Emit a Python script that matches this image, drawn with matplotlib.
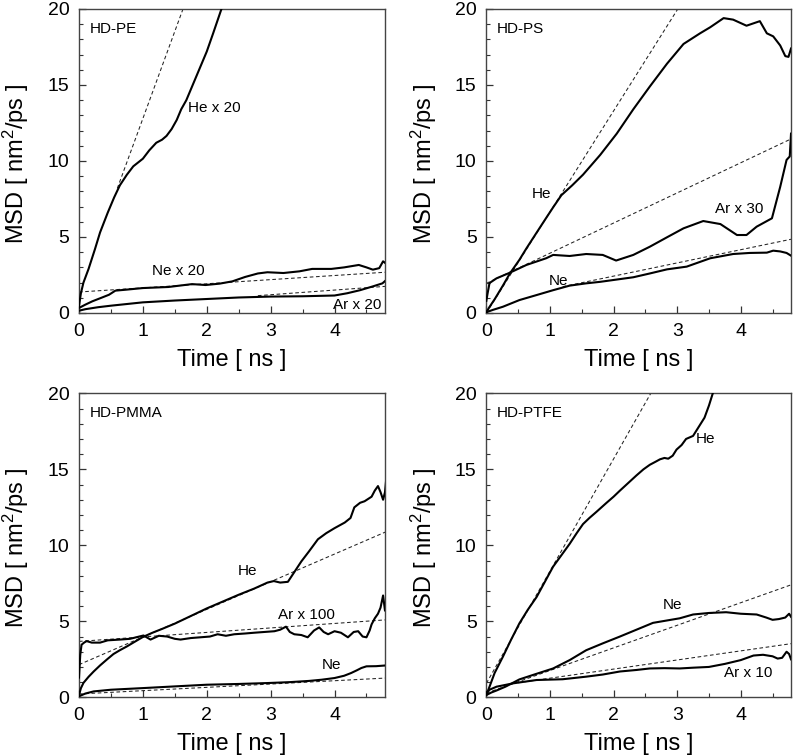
import matplotlib
matplotlib.use("Agg")
import matplotlib.pyplot as plt
from matplotlib.ticker import MultipleLocator

plt.rcParams['font.family'] = ['Liberation Sans', 'DejaVu Sans']
plt.rcParams['mathtext.fontset'] = 'custom'
plt.rcParams['mathtext.rm'] = 'Liberation Sans'
plt.rcParams['mathtext.it'] = 'Liberation Sans'

# ---------------- HD-PE ----------------
pe_he_t = [0, 0.03, 0.07, 0.15, 0.25, 0.33, 0.45, 0.55, 0.64, 0.75, 0.85, 1.0, 1.1, 1.21, 1.3,
           1.37, 1.45, 1.53, 1.6, 1.68, 1.76, 1.84, 1.92, 2.0, 2.1, 2.23, 2.3]
pe_he_y = [0.45, 1.3, 2.0, 2.9, 4.2, 5.3, 6.6, 7.6, 8.4, 9.1, 9.65, 10.15, 10.7, 11.2, 11.4,
           11.65, 12.1, 12.7, 13.4, 14.0, 14.8, 15.6, 16.4, 17.2, 18.4, 20.0, 20.8]
pe_ne_t = [0, 0.1, 0.21, 0.35, 0.47, 0.57, 0.73, 1.0, 1.4, 1.77, 1.98, 2.2, 2.4, 2.6, 2.8,
           2.95, 3.2, 3.45, 3.65, 3.95, 4.15, 4.38, 4.5, 4.6, 4.7, 4.76, 4.79]
pe_ne_y = [0.33, 0.55, 0.77, 1.0, 1.2, 1.47, 1.53, 1.64, 1.71, 1.9, 1.84, 1.93, 2.08, 2.37, 2.6,
           2.68, 2.63, 2.74, 2.9, 2.9, 3.0, 3.16, 3.0, 2.85, 2.95, 3.4, 3.3]
pe_ar_t = [0, 0.1, 0.3, 0.5, 1.0, 1.5, 2.0, 2.5, 3.0, 3.5, 4.0, 4.2, 4.4, 4.6, 4.75, 4.79]
pe_ar_y = [0.15, 0.25, 0.38, 0.48, 0.7, 0.82, 0.92, 1.02, 1.08, 1.1, 1.15, 1.3, 1.5, 1.75, 1.95, 2.1]
pe_fit_he_t = [0.6, 1.75]
pe_fit_he_y = [8.2, 21.4]
pe_fit_ne_t = [0, 4.79]
pe_fit_ne_y = [1.38, 2.68]
pe_fit_ar_t = [2.8, 4.79]
pe_fit_ar_y = [1.14, 1.75]

# ---------------- HD-PS ----------------
ps_he_t = [0, 0.05, 0.13, 0.26, 0.37, 0.52, 0.63, 0.8, 0.94, 1.05, 1.18, 1.35, 1.52, 1.79, 2.05,
           2.31, 2.57, 2.84, 3.1, 3.36, 3.52, 3.73, 3.88, 4.09, 4.3, 4.41, 4.51, 4.62, 4.7, 4.75, 4.79]
ps_he_y = [0.05, 0.4, 0.9, 1.8, 2.6, 3.5, 4.25, 5.35, 6.25, 6.95, 7.75, 8.4, 9.1, 10.4, 11.8,
           13.4, 14.9, 16.4, 17.7, 18.4, 18.8, 19.4, 19.3, 18.9, 19.2, 18.4, 18.2, 17.6, 16.9, 16.85, 17.4]
ps_ar_t = [0, 0.02, 0.05, 0.16, 0.37, 0.63, 0.94, 1.05, 1.31, 1.57, 1.83, 2.04, 2.31, 2.57, 2.84,
           3.1, 3.41, 3.68, 3.94, 4.09, 4.25, 4.49, 4.62, 4.72, 4.77, 4.79]
ps_ar_y = [0.8, 1.3, 1.97, 2.28, 2.65, 3.16, 3.6, 3.82, 3.75, 3.88, 3.82, 3.45, 3.82, 4.36, 4.98,
           5.57, 6.05, 5.85, 5.13, 5.13, 5.68, 6.23, 8.3, 10.07, 10.3, 11.8]
ps_ne_t = [0, 0.1, 0.26, 0.52, 0.79, 1.05, 1.31, 1.57, 1.79, 2.05, 2.31, 2.57, 2.84,
           3.15, 3.52, 3.88, 4.14, 4.41, 4.51, 4.62, 4.72, 4.79]
ps_ne_y = [0.05, 0.2, 0.41, 0.85, 1.18, 1.5, 1.8, 1.95, 2.05, 2.2, 2.35, 2.6, 2.87,
           3.05, 3.6, 3.88, 3.95, 3.97, 4.1, 4.05, 3.95, 3.77]
ps_fit_he_t = [0, 3.1]
ps_fit_he_y = [0, 20.6]
ps_fit_ar_t = [0, 4.79]
ps_fit_ar_y = [1.95, 11.45]
ps_fit_ne_t = [1.2, 4.79]
ps_fit_ne_y = [1.73, 4.85]

# ---------------- HD-PMMA ----------------
pm_he_t = [0, 0.03, 0.07, 0.15, 0.23, 0.33, 0.44, 0.54, 0.64, 0.75, 0.85, 1.0, 1.15, 1.3, 1.5,
           1.75, 2.0, 2.25, 2.5, 2.74, 2.95, 3.05, 3.15, 3.27, 3.38, 3.48, 3.6, 3.74,
           3.87, 4.0, 4.16, 4.25, 4.31, 4.4, 4.47, 4.58, 4.63, 4.68, 4.72, 4.76, 4.79, 4.81]
pm_he_y = [0.15, 0.6, 0.95, 1.35, 1.7, 2.1, 2.5, 2.85, 3.1, 3.35, 3.6, 3.97, 4.25, 4.5, 4.85,
           5.35, 5.85, 6.3, 6.75, 7.15, 7.55, 7.65, 7.55, 7.6, 8.3, 8.94, 9.6, 10.4,
           10.8, 11.13, 11.5, 11.8, 12.5, 12.8, 12.9, 13.2, 13.6, 13.9, 13.5, 13.0, 13.5, 14.4]
pm_ar_t = [0, 0.02, 0.04, 0.08, 0.12, 0.2, 0.33, 0.45, 0.64, 0.8, 1.01, 1.12, 1.25, 1.38, 1.5,
           1.59, 1.75, 1.9, 2.05, 2.17, 2.3, 2.43, 2.6, 2.74, 2.9, 3.06, 3.15, 3.24, 3.3, 3.37,
           3.48, 3.58, 3.68, 3.76, 3.83, 3.9, 4.0, 4.1, 4.21, 4.3, 4.37, 4.44, 4.5, 4.55, 4.58,
           4.63, 4.68, 4.72, 4.76, 4.79, 4.81]
pm_ar_y = [1.3, 2.8, 3.46, 3.6, 3.7, 3.6, 3.6, 3.75, 3.8, 3.85, 4.07, 3.8, 4.05, 4.0, 3.85,
           3.8, 3.9, 3.95, 4.0, 4.15, 4.05, 4.15, 4.2, 4.25, 4.3, 4.35, 4.45, 4.65, 4.3, 4.15,
           4.1, 3.95, 4.4, 4.6, 4.3, 4.15, 4.35, 4.25, 3.95, 4.3, 4.35, 4.0, 3.95, 4.4, 4.8,
           5.2, 5.5, 5.9, 6.7, 5.7, 6.4]
pm_ne_t = [0, 0.1, 0.23, 0.5, 1.01, 1.5, 2.0, 2.5, 2.95, 3.3, 3.6, 3.8, 4.0, 4.15, 4.26, 4.35,
           4.42, 4.5, 4.65, 4.81]
pm_ne_y = [0.07, 0.25, 0.39, 0.5, 0.61, 0.72, 0.83, 0.88, 0.94, 1.0, 1.08, 1.16, 1.27, 1.42,
           1.6, 1.78, 1.93, 2.04, 2.05, 2.1]
pm_fit_he_t = [0, 4.81]
pm_fit_he_y = [2.15, 10.9]
pm_fit_ar_t = [0, 4.81]
pm_fit_ar_y = [3.68, 5.1]
pm_fit_ne_t = [0, 4.81]
pm_fit_ne_y = [0.22, 1.27]

# ---------------- HD-PTFE ----------------
pt_he_t = [0, 0.05, 0.13, 0.26, 0.39, 0.52, 0.65, 0.79, 0.92, 1.05, 1.18, 1.31, 1.42, 1.52,
           1.62, 1.73, 1.89, 2.0, 2.1, 2.23, 2.36, 2.47, 2.57, 2.66, 2.73, 2.8, 2.86, 2.93,
           2.99, 3.07, 3.14, 3.25, 3.34, 3.43, 3.5, 3.56, 3.62]
pt_he_y = [0.15, 0.7, 1.6, 2.67, 3.8, 4.87, 5.75, 6.6, 7.6, 8.6, 9.35, 10.1, 10.8, 11.4,
           11.8, 12.2, 12.8, 13.2, 13.6, 14.1, 14.6, 15.0, 15.3, 15.5, 15.66, 15.75, 15.7, 15.9,
           16.3, 16.6, 17.0, 17.2, 17.8, 18.4, 19.2, 20.0, 20.6]
pt_ne_t = [0, 0.08, 0.16, 0.3, 0.52, 0.79, 1.05, 1.31, 1.57, 1.83, 2.1, 2.36, 2.62, 2.83, 3.04,
           3.25, 3.5, 3.77, 4.0, 4.25, 4.4, 4.5, 4.6, 4.7, 4.76, 4.79]
pt_ne_y = [0.15, 0.32, 0.45, 0.7, 1.18, 1.55, 1.9, 2.45, 3.1, 3.55, 4.0, 4.45, 4.9, 5.05, 5.2,
           5.45, 5.55, 5.6, 5.5, 5.45, 5.25, 5.1, 5.15, 5.25, 5.5, 5.3]
pt_ar_t = [0, 0.05, 0.16, 0.42, 0.79, 1.2, 1.57, 1.83, 2.1, 2.36, 2.57, 2.8, 3.04, 3.25,
           3.5, 3.75, 4.0, 4.2, 4.35, 4.5, 4.58, 4.65, 4.72, 4.76, 4.79]
pt_ar_y = [0.3, 0.5, 0.7, 0.92, 1.14, 1.19, 1.36, 1.5, 1.7, 1.8, 1.9, 1.92, 1.9, 1.95,
           2.0, 2.2, 2.45, 2.75, 2.8, 2.7, 2.55, 2.6, 3.0, 2.85, 2.5]
pt_fit_he_t = [0, 2.7]
pt_fit_he_y = [0.92, 20.85]
pt_fit_ne_t = [0, 4.79]
pt_fit_ne_y = [0.28, 7.4]
pt_fit_ar_t = [0.5, 4.79]
pt_fit_ar_y = [0.96, 3.53]

# labels: (text, x, y)
titles = ["HD-PE", "HD-PS", "HD-PMMA", "HD-PTFE"]
pe_labels = [("He x 20", 1.71, 13.5), ("Ne x 20", 1.14, 2.74), ("Ar x 20", 3.97, 0.55)]
ps_labels = [("He", 0.71, 7.85), ("Ar x 30", 3.6, 6.86), ("Ne", 0.98, 2.1)]
pm_labels = [("He", 2.49, 8.28), ("Ar x 100", 3.11, 5.43), ("Ne", 3.8, 2.1)]
pt_labels = [("He", 3.3, 17.0), ("Ne", 2.77, 6.09), ("Ar x 10", 3.73, 1.6)]

panels = [
    (titles[0], [(pe_he_t, pe_he_y), (pe_ne_t, pe_ne_y), (pe_ar_t, pe_ar_y)],
     [(pe_fit_he_t, pe_fit_he_y), (pe_fit_ne_t, pe_fit_ne_y), (pe_fit_ar_t, pe_fit_ar_y)], pe_labels),
    (titles[1], [(ps_he_t, ps_he_y), (ps_ar_t, ps_ar_y), (ps_ne_t, ps_ne_y)],
     [(ps_fit_he_t, ps_fit_he_y), (ps_fit_ar_t, ps_fit_ar_y), (ps_fit_ne_t, ps_fit_ne_y)], ps_labels),
    (titles[2], [(pm_he_t, pm_he_y), (pm_ar_t, pm_ar_y), (pm_ne_t, pm_ne_y)],
     [(pm_fit_he_t, pm_fit_he_y), (pm_fit_ar_t, pm_fit_ar_y), (pm_fit_ne_t, pm_fit_ne_y)], pm_labels),
    (titles[3], [(pt_he_t, pt_he_y), (pt_ne_t, pt_ne_y), (pt_ar_t, pt_ar_y)],
     [(pt_fit_he_t, pt_fit_he_y), (pt_fit_ne_t, pt_fit_ne_y), (pt_fit_ar_t, pt_fit_ar_y)], pt_labels),
]

positions = [
    [0.0996, 0.5860, 0.3859, 0.4021],
    [0.6133, 0.5860, 0.3842, 0.4021],
    [0.0996, 0.0776, 0.3859, 0.4021],
    [0.6133, 0.0776, 0.3842, 0.4021],
]

fig = plt.figure(figsize=(7.93, 7.56), dpi=100)

for (title, curves, fits, labels), pos in zip(panels, positions):
    ax = fig.add_axes(pos)
    for t, y in fits:
        ax.plot(t, y, color='#222222', lw=0.75, ls=(0, (3.5, 2.5)), zorder=2)
    for t, y in curves:
        ax.plot(t, y, color='black', lw=1.5, zorder=3, solid_joinstyle='round')
    for txt, x, y in labels:
        ax.text(x, y, txt, fontsize=11, ha='left', va='center', zorder=4)
    ax.text(0.17, 18.7, title, fontsize=11, ha='left', va='center')
    ax.set_xlim(0, 4.79)
    ax.set_ylim(0, 20)
    ax.xaxis.set_major_locator(MultipleLocator(1))
    ax.xaxis.set_minor_locator(MultipleLocator(0.5))
    ax.yaxis.set_major_locator(MultipleLocator(5))
    ax.yaxis.set_minor_locator(MultipleLocator(1))
    ax.tick_params(which='both', direction='in', top=False, right=False,
                   labelsize=14, pad=7, color='#333333')
    ax.tick_params(which='major', length=5, width=0.9)
    ax.tick_params(which='minor', length=3, width=0.8)
    for sp in ax.spines.values():
        sp.set_color('#444444')
        sp.set_linewidth(1.0)
    ax.set_xlabel('Time [ ns ]', fontsize=17)
    ax.set_ylabel(r'MSD [ nm$^{2}$/ps ]', fontsize=17)
    ax.xaxis.set_label_coords(0.5, -0.155)
    ax.xaxis.label.set_va('center')
    ax.yaxis.set_label_coords(-0.206, 0.49)
    ax.yaxis.label.set_va('center')

fig.savefig('out.png', dpi=100)
